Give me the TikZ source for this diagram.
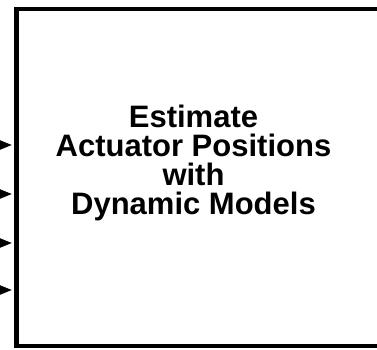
\documentclass[tikz,border=0pt]{standalone}
\usepackage{fontspec}
\setmainfont{Liberation Sans}
\usetikzlibrary{arrows.meta}
\begin{document}
\begin{tikzpicture}[x=1pt, y=1pt, font=\bfseries\fontsize{31}{29}\selectfont]
	\useasboundingbox (0,0) rectangle (377,349);
	\clip (0,0) rectangle (377,349);
	% block, its right side lies outside the picture
	\node[draw, line width=4.8pt, minimum width=400pt, minimum height=337pt, inner sep=0pt] (block) at (216.5,171.5) {};
	\node[align=center] (title) at (193.5,186) {Estimate\\Actuator Positions\\with\\Dynamic Models};
	% inputs
	\coordinate (in1) at (-10,204);
	\coordinate (in2) at (-10,155);
	\coordinate (in3) at (-10,106);
	\coordinate (in4) at (-10,59);
	\foreach \i in {1,...,4}
		\draw[-{Triangle[length=15pt, width=12pt]}, line width=0.5pt, shorten >=2.4pt] (in\i) -- (block.west |- in\i);
\end{tikzpicture}
\end{document}
